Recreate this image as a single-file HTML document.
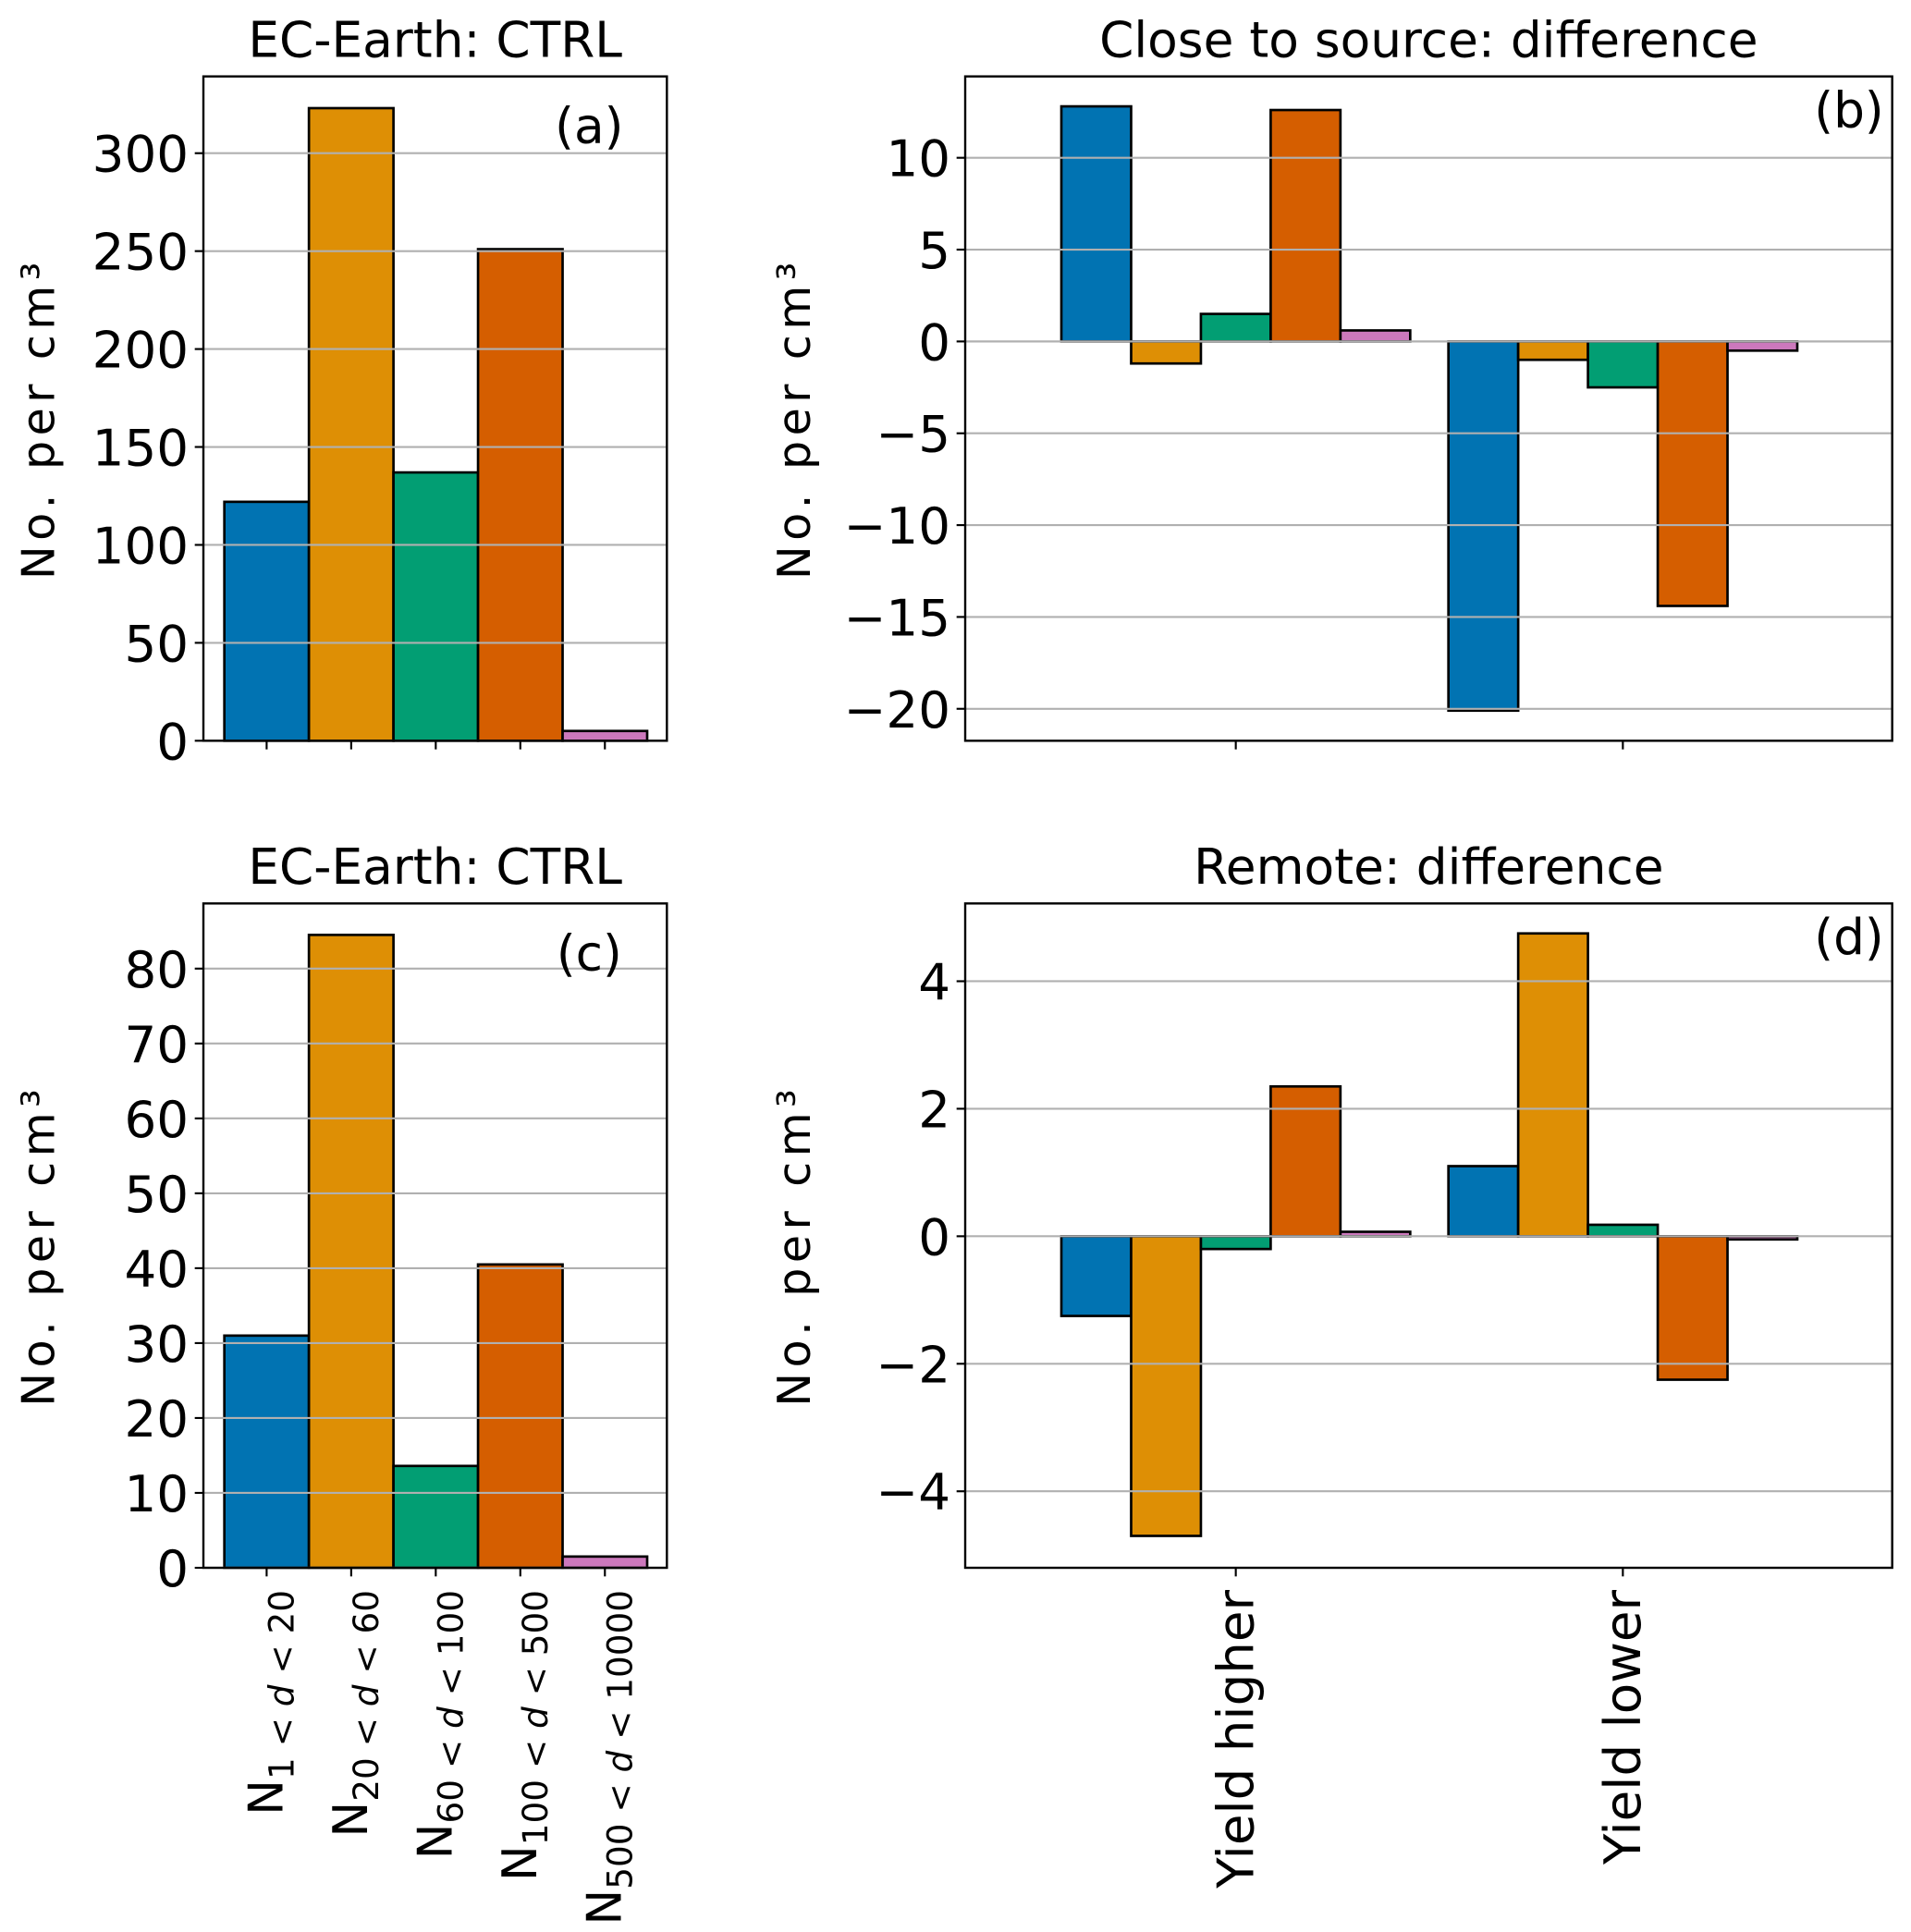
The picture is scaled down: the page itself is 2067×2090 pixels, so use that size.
<!DOCTYPE html>
<html><head><meta charset="utf-8">
<style>html,body{margin:0;padding:0;background:#fff}svg{display:block}text{font-family:"DejaVu Sans","Liberation Sans",sans-serif;fill:#000}</style>
</head><body>
<svg id="fig" xmlns="http://www.w3.org/2000/svg" width="2067" height="2090" viewBox="0 0 1550.25 1567.5"></svg>
<script>
const colors = ["#0173b2","#de8f05","#029e73","#d55e00","#cc78bc"];
const aValues = [122, 323, 137, 251, 5];
const aTicks = [0, 50, 100, 150, 200, 250, 300];
const cValues = [31, 84.5, 13.6, 40.5, 1.5];
const cTicks = [0, 10, 20, 30, 40, 50, 60, 70, 80];
const sizeSubs = ["1", "20", "60", "100", "500"];
const sizeUpper = ["20", "60", "100", "500", "10000"];
const groups = ["Yield higher", "Yield lower"];
const bValues = [[12.8, -1.2, 1.5, 12.6, 0.6], [-20.1, -1.0, -2.5, -14.4, -0.5]];
const bTicks = [-20, -15, -10, -5, 0, 5, 10];
const dValues = [[-1.25, -4.7, -0.2, 2.35, 0.07], [1.1, 4.75, 0.18, -2.25, -0.05]];
const dTicks = [-4, -2, 0, 2, 4];

const NS = "http://www.w3.org/2000/svg";
const svg = document.getElementById("fig");
function el(tag, attrs, parent) {
  const e = document.createElementNS(NS, tag);
  for (const k in attrs) e.setAttribute(k, attrs[k]);
  (parent || svg).appendChild(e);
  return e;
}
function fmt(v){ return v < 0 ? "\u2212" + Math.abs(v) : String(v); }

function panel(cfg) {
  const g = el("g", {});
  
  
  const L = cfg.L, R = cfg.R, T = cfg.T, B = cfg.B;
  const y = v => B - (v - cfg.ymin) / (cfg.ymax - cfg.ymin) * (B - T);
  const t = el("text", {x: (L + R) / 2, y: T - 16, "text-anchor": "middle", "font-size": 40}, g);
  t.textContent = cfg.title;
  
  
  cfg.bars.forEach(b => {
    const y0 = y(0), yv = y(b.v);
    const r = el("rect", {x: b.x, y: Math.min(y0, yv), width: b.w, height: Math.abs(yv - y0), fill: b.c, stroke: "#000", "stroke-width": 2}, g);
    
    
  });
  cfg.ticks.forEach(v => {
    const yy = y(v);
    const gl = el("line", {x1: L, x2: R, y1: yy, y2: yy, stroke: "#b0b0b0", "stroke-width": 1.6}, g);
    
    
    el("line", {x1: L - 7, x2: L, y1: yy, y2: yy, stroke: "#000", "stroke-width": 1.6}, g);
    const tl = el("text", {x: L - 12, y: yy + 15, "text-anchor": "end", "font-size": 41}, g);
    tl.textContent = fmt(v);
    
    
  });
  cfg.xticks.forEach(x => el("line", {x1: x, x2: x, y1: B, y2: B + 7, stroke: "#000", "stroke-width": 1.6}, g));
  const f = el("rect", {x: L, y: T, width: R - L, height: B - T, fill: "none", stroke: "#000", "stroke-width": 1.8}, g);
  
  
  const pl = el("text", {x: cfg.letterX, y: cfg.letterY, "text-anchor": "middle", "font-size": 40}, g);
  pl.textContent = cfg.letter;
  
  
  const yl = el("text", {x: 0, y: 0, "text-anchor": "middle", "font-size": 37, "letter-spacing": 4, transform: `translate(${cfg.ylabX},${(T + B) / 2 + 8}) rotate(-90)`}, g);
  yl.textContent = "No. per cm\u00B3";
  
  
  return g;
}

function singleBars(values) {
  const w = 68.6, x0 = 182;
  return values.map((v, i) => ({x: x0 + i * w, w: w, v: v, c: colors[i]}));
}
const singleTicks = [0,1,2,3,4].map(i => 182 + 68.6 * (i + 0.5));
function groupBars(vals) {
  const w = 56.6, starts = [861, 1175], out = [];
  vals.forEach((arr, gi) => arr.forEach((v, i) => out.push({x: starts[gi] + i * w, w: w, v: v, c: colors[i]})));
  return out;
}
const groupTicks = [861 + 56.6 * 2.5, 1175 + 56.6 * 2.5];

panel({name: "panel-a", L: 165, R: 541, T: 62, B: 601, ymin: 0, ymax: 339.2, ticks: aTicks, bars: singleBars(aValues), xticks: singleTicks, title: "EC-Earth: CTRL", letter: "(a)", letterX: 478, letterY: 116, ylabX: 44});
panel({name: "panel-b", L: 783, R: 1535, T: 62, B: 601, ymin: -21.74, ymax: 14.43, ticks: bTicks, bars: groupBars(bValues), xticks: groupTicks, title: "Close to source: difference", letter: "(b)", letterX: 1500, letterY: 103, ylabX: 657});
panel({name: "panel-c", L: 165, R: 541, T: 733, B: 1272, ymin: 0, ymax: 88.7, ticks: cTicks, bars: singleBars(cValues), xticks: singleTicks, title: "EC-Earth: CTRL", letter: "(c)", letterX: 478, letterY: 787, ylabX: 44});
panel({name: "panel-d", L: 783, R: 1535, T: 733, B: 1272, ymin: -5.2, ymax: 5.22, ticks: dTicks, bars: groupBars(dValues), xticks: groupTicks, title: "Remote: difference", letter: "(d)", letterX: 1500, letterY: 774, ylabX: 657});

sizeSubs.forEach((s, i) => {
  const x = singleTicks[i] + 13;
  const t = el("text", {x: 0, y: 0, "text-anchor": "end", "font-size": 39, transform: `translate(${x},1290) rotate(-90)`});
  
  
  const n = el("tspan", {}, t); n.textContent = "N";
  const sub = el("tspan", {"font-size": 28, dy: 9}, t); sub.textContent = s + " < ";
  const d = el("tspan", {"font-size": 28, "font-style": "italic"}, t); d.textContent = "d";
  const rest = el("tspan", {"font-size": 28}, t); rest.textContent = " < " + sizeUpper[i];
});
groups.forEach((lab, i) => {
  const t = el("text", {x: 0, y: 0, "text-anchor": "end", "font-size": 41, transform: `translate(${groupTicks[i] + 14},1290) rotate(-90)`});
  t.textContent = lab;
  
  
});
</script>
</body></html>
